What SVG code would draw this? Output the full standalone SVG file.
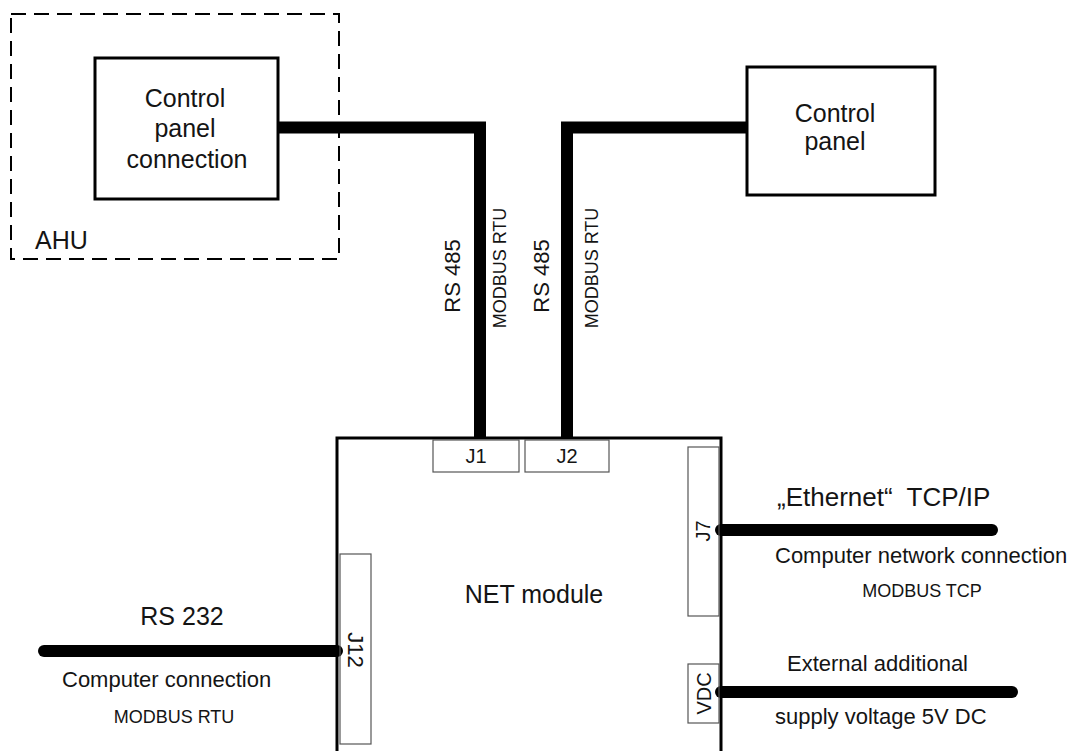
<svg xmlns="http://www.w3.org/2000/svg" width="1072" height="751" viewBox="0 0 1072 751">
<style>
text{font-family:"Liberation Sans",Arial,sans-serif;fill:#141414}
.box{fill:none;stroke:#000;stroke-width:3}
.conn{fill:none;stroke:#555;stroke-width:1.2}
.wire{fill:none;stroke:#000;stroke-width:12}
.big{font-size:25px}
.mid{font-size:22px}
.sm{font-size:18px}
.j{font-size:20px}
</style>
<rect width="1072" height="751" fill="#fff"/>
<g id="ahu">
<rect x="11" y="14" width="328" height="245" fill="none" stroke="#000" stroke-width="2" stroke-dasharray="15,8"/>
<text class="big" x="35" y="249">AHU</text>
</g>
<g id="cpc">
<rect class="box" x="95" y="58" width="183" height="141"/>
<text class="big" text-anchor="middle" x="185" y="107">Control</text>
<text class="big" text-anchor="middle" x="185" y="137">panel</text>
<text class="big" text-anchor="middle" x="187" y="168">connection</text>
</g>
<g id="cp">
<rect class="box" x="747" y="67" width="188" height="128"/>
<text class="big" text-anchor="middle" x="835" y="122">Control</text>
<text class="big" text-anchor="middle" x="835" y="150">panel</text>
</g>
<g id="connectors">
<path class="wire" d="M278 127.5H480V438" stroke-linejoin="miter"/>
<path class="wire" d="M747 127.5H567V438" stroke-linejoin="miter"/>
<path class="wire" d="M721 530H992" stroke-linecap="round"/>
<path class="wire" d="M721 692H1012" stroke-linecap="round"/>
<path class="wire" d="M337 651H44" stroke-linecap="round"/>
</g>
<g id="labels485">
<text class="mid" text-anchor="middle" transform="translate(460 276) rotate(-90)">RS 485</text>
<text class="sm" text-anchor="middle" transform="translate(506 268) rotate(-90)">MODBUS RTU</text>
<text class="mid" text-anchor="middle" transform="translate(549 276) rotate(-90)">RS 485</text>
<text class="sm" text-anchor="middle" transform="translate(598 268) rotate(-90)">MODBUS RTU</text>
</g>
<g id="net">
<path class="box" d="M337 752V438H721V752"/>
<text class="big" text-anchor="middle" x="534" y="603">NET module</text>
</g>
<g id="j1">
<rect class="conn" x="433" y="440" width="86" height="32"/>
<text class="j" text-anchor="middle" x="476" y="463">J1</text>
</g>
<g id="j2">
<rect class="conn" x="525" y="440" width="84" height="32"/>
<text class="j" text-anchor="middle" x="567" y="463">J2</text>
</g>
<g id="j7">
<rect class="conn" x="688" y="447" width="31" height="169"/>
<text class="j" text-anchor="middle" transform="translate(710 531) rotate(-90)">J7</text>
</g>
<g id="vdc">
<rect class="conn" x="688" y="664" width="31" height="59"/>
<text class="j" text-anchor="middle" transform="translate(711 693.5) rotate(-90)">VDC</text>
</g>
<g id="j12">
<rect class="conn" x="340" y="554" width="31" height="190"/>
<text class="mid" text-anchor="middle" transform="translate(348 650) rotate(90)">J12</text>
</g>
<g id="eth">
<text x="777" y="506" font-size="26" xml:space="preserve">„Ethernet“  TCP/IP</text>
<text class="mid" x="775" y="563">Computer network connection</text>
<text class="sm" text-anchor="middle" x="922" y="597">MODBUS TCP</text>
</g>
<g id="pwr">
<text class="mid" x="787" y="671">External additional</text>
<text class="mid" x="775" y="724">supply voltage 5V DC</text>
</g>
<g id="rs232">
<text class="big" text-anchor="middle" x="182" y="625">RS 232</text>
<text class="mid" x="62" y="687">Computer connection</text>
<text class="sm" text-anchor="middle" x="174" y="723">MODBUS RTU</text>
</g>
</svg>
